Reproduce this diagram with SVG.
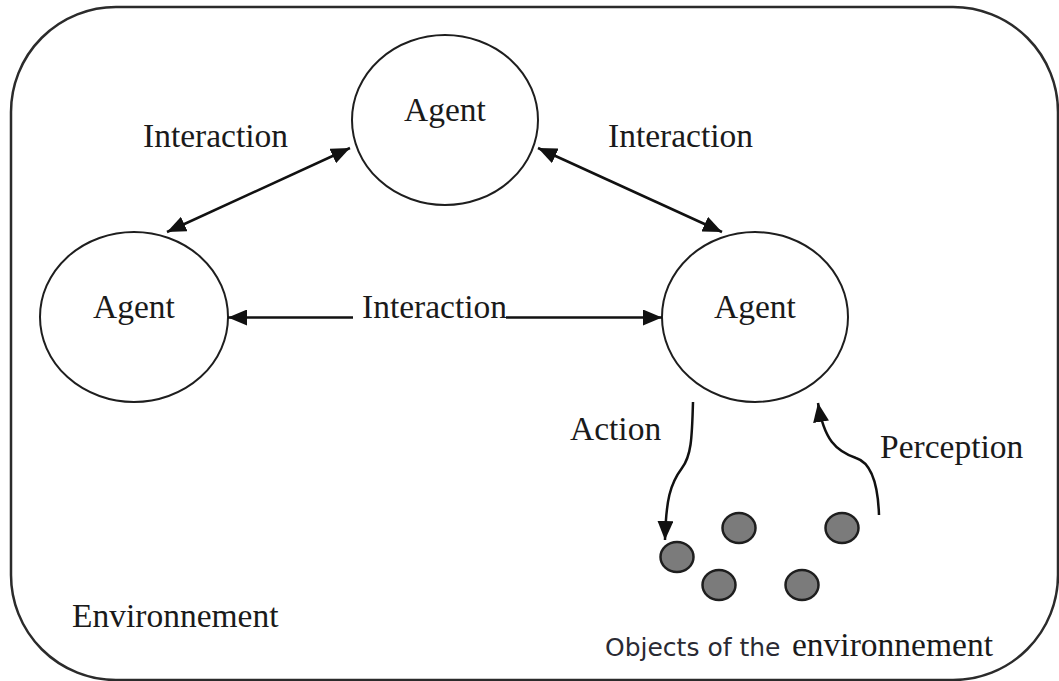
<svg xmlns="http://www.w3.org/2000/svg" width="1059" height="681" viewBox="0 0 1059 681">
  <style>
    .frame { fill: none; stroke: #2b2b2b; stroke-width: 2.5; }
    .agent { fill: #ffffff; stroke: #1e1e1e; stroke-width: 2; }
    .label { font-family: "Liberation Serif", "Times New Roman", serif; font-size: 33.5px; fill: #1a1a1a; }
    .sans { font-family: "DejaVu Sans", "Liberation Sans", sans-serif; font-size: 25px; fill: #2a2a33; }
    .link { fill: none; stroke: #111111; stroke-width: 2.5; }
    .obj { fill: #7b7b7b; stroke: #1e1e1e; stroke-width: 2.5; }
  </style>
  <defs>
    <marker id="head" markerUnits="userSpaceOnUse" markerWidth="20" markerHeight="16" viewBox="0 0 20 16" refX="19" refY="8" orient="auto-start-reverse">
      <path d="M0,0 L19,8 L0,16 Z" fill="#111111"/>
    </marker>
  </defs>

  <rect width="1059" height="681" fill="#ffffff"/>

  <!-- environment boundary -->
  <g id="environment">
    <rect class="frame" x="11" y="7" width="1047" height="673" rx="105" ry="105"/>
    <text class="label" x="72" y="627">Environnement</text>
  </g>

  <!-- agents -->
  <g id="agent-top">
    <ellipse class="agent" cx="445" cy="120" rx="93" ry="85"/>
    <text class="label" x="445" y="121" text-anchor="middle">Agent</text>
  </g>
  <g id="agent-left">
    <ellipse class="agent" cx="134" cy="317" rx="94" ry="85"/>
    <text class="label" x="134" y="318" text-anchor="middle">Agent</text>
  </g>
  <g id="agent-right">
    <ellipse class="agent" cx="755" cy="317" rx="93" ry="85"/>
    <text class="label" x="755" y="318" text-anchor="middle">Agent</text>
  </g>

  <!-- objects of the environment -->
  <g id="objects">
    <ellipse class="obj" cx="677" cy="557" rx="16.5" ry="15"/>
    <ellipse class="obj" cx="739" cy="528" rx="16.5" ry="15"/>
    <ellipse class="obj" cx="842" cy="528" rx="16.5" ry="15"/>
    <ellipse class="obj" cx="719" cy="585" rx="16.5" ry="15"/>
    <ellipse class="obj" cx="802" cy="585" rx="16.5" ry="15"/>
    <text x="605" y="656"><tspan class="sans">Objects of the</tspan><tspan class="label" x="792">environnement</tspan></text>
  </g>

  <!-- connectors -->
  <g id="connectors">
    <line class="link" x1="167" y1="232" x2="350" y2="148" marker-start="url(#head)" marker-end="url(#head)"/>
    <line class="link" x1="538" y1="148" x2="722" y2="232" marker-start="url(#head)" marker-end="url(#head)"/>
    <line class="link" x1="353" y1="317.5" x2="228" y2="317.5" marker-end="url(#head)"/>
    <line class="link" x1="506" y1="317.5" x2="662" y2="317.5" marker-end="url(#head)"/>
    <path class="link" d="M693,402 C692,440 691,456 682,468 C670,484 666,500 665,540" marker-end="url(#head)"/>
    <path class="link" d="M879,515 C878,485 872,463 856,458 C836,451 824,440 818,403" marker-end="url(#head)"/>
    <text class="label" x="143" y="147">Interaction</text>
    <text class="label" x="608" y="147">Interaction</text>
    <text class="label" x="362" y="318">Interaction</text>
    <text class="label" x="570" y="440">Action</text>
    <text class="label" x="880" y="458">Perception</text>
  </g>
</svg>
